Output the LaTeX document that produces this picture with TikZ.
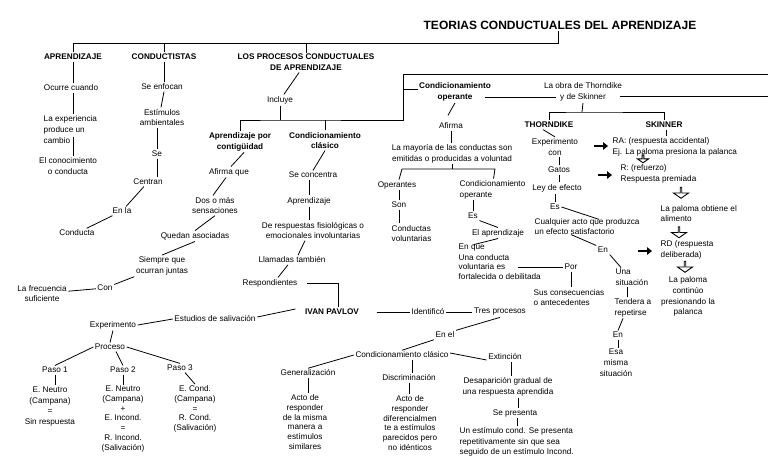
\documentclass[tikz,border=0pt]{standalone}
\usepackage{fontspec}
\setmainfont{Liberation Sans}
\usetikzlibrary{arrows.meta,shapes.arrows,calc}
\begin{document}
\begin{tikzpicture}[x=1pt,y=-1pt,
 every node/.style={font=\fontsize{8.2}{10.8}\selectfont, inner sep=1.5pt, align=center},
 lt/.style={align=left, anchor=west},
 bt/.style={font=\bfseries\fontsize{8.2}{10.8}\selectfont},
 tight/.style={font=\fontsize{8.2}{9.7}\selectfont},
 ln/.style={draw, line width=0.8pt},
 hollow/.style={single arrow, draw, fill=white, line width=0.9pt, shape border rotate=270,
   minimum height=11pt, minimum width=15pt, single arrow head extend=4pt,
   single arrow tip angle=110, inner sep=0pt},
 blkarr/.style={line width=2.6pt, -{Triangle[length=5pt,width=7.5pt]}}
]
\fill[white] (0,0) rectangle (768,467);
\useasboundingbox (0,0) rectangle (768,467);

% ---- title and top bar
\node[font=\bfseries\fontsize{12}{14}\selectfont] (title) at (560,25) {TEORIAS CONDUCTUALES DEL APRENDIZAJE};
\coordinate (topbar) at (558,43);
\node[bt] (aprend) at (73,57) {APRENDIZAJE};
\node[bt] (conduct) at (164,57) {CONDUCTISTAS};
\node[bt] (procesos) at (306,62.5) {LOS PROCESOS CONDUCTUALES\\DE APRENDIZAJE};
\draw[ln] (title.south -| topbar) -- (topbar) -| (aprend.north);
\draw[ln] (conduct.north) -- (conduct.north |- topbar);
\draw[ln] (procesos.north) -- (procesos.north |- topbar);

% ---- APRENDIZAJE column
\node (ocurre) at (71,88) {Ocurre cuando};
\node[lt] (exper) at (42,129.5) {La experiencia\\produce un\\cambio};
\node (conoc) at (68,166) {El conocimiento\\o conducta};
\draw[ln] (aprend.south) -- (aprend.south |- ocurre.north);
\draw[ln] (aprend.south |- ocurre.south) -- (aprend.south |- exper.north);
\draw[ln] ($(aprend.south |- exper.south)+(0,-8)$) -- (aprend.south |- conoc.north);

% ---- CONDUCTISTAS column
\node (enfocan) at (162,87) {Se enfocan};
\node (estim) at (162,117.5) {Estímulos\\ambientales};
\node (se1) at (157,154) {Se};
\node (centran) at (148,182) {Centran};
\node (enla) at (122,211) {En la};
\node (conducta) at (77,233) {Conducta};
\draw[ln] (conduct.south) -- (conduct.south |- enfocan.north);
\draw[ln] ([xshift=2pt]enfocan.south) -- ([xshift=-1pt]estim.north);
\draw[ln] (se1.north) -- (se1.north |- estim.south);
\draw[ln] (se1.south) -- (se1.south |- centran.north);
\draw[ln] (centran) -- (enla);
\draw[ln] (enla) -- (conducta);

% ---- LOS PROCESOS
\node (incluye) at (280,100) {Incluye};
\draw[ln] (procesos) -- (incluye);
\coordinate (ibar) at (280,120);
\coordinate (obar) at (403,74);
\coordinate (redge0) at (768,74);
\node[bt] (contig) at (240,141.5) {Aprendizaje por\\contigüidad};
\node[bt] (clasico) at (325,140.5) {Condicionamiento\\clásico};
\node[bt] (operante) at (455,92) {Condicionamiento\\operante};
\draw[ln] (incluye.south) -- (ibar);
\draw[ln] (contig.north) |- (ibar) -| (obar) -- (redge0);
\draw[ln] (clasico.north) -- (clasico.north |- ibar);
\draw[ln] ($(obar |- operante.west)+(0,-3)$) -- ($(operante.west)+(0,-3)$);

% ---- contiguidad chain
\node (afirma) at (229,172) {Afirma que};
\node (dos) at (215,205.5) {Dos o más\\sensaciones};
\node (quedan) at (195,236) {Quedan asociadas};
\node (siempre) at (162,266) {Siempre que\\ocurran juntas};
\node (con) at (105,288) {Con};
\node (frec) at (42,293.5) {La frecuencia\\suficiente};
\draw[ln] ([xshift=4pt]contig.south) -- ([xshift=2pt]afirma.north);
\draw[ln] ([xshift=-3pt]afirma.south) -- ([xshift=-2pt]dos.north);
\draw[ln] (dos.south) -- (quedan.north);
\draw[ln] (quedan.south) -- (siempre.north);
\draw[ln] (siempre) -- (con);
\draw[ln] (con) -- (frec);

% ---- clasico chain
\node (concentra) at (313,175) {Se concentra};
\node (aprendz) at (309,201) {Aprendizaje};
\node (deresp) at (313,230.5) {De respuestas fisiológicas o\\emocionales involuntarias};
\node (llamadas) at (292,260) {Llamadas también};
\node (respond) at (270,283) {Respondientes};
\node[bt] (pavlov) at (332,312) {IVAN PAVLOV};
\draw[ln] (clasico.south) -- (concentra.north);
\draw[ln] (aprendz.north) -- (aprendz.north |- concentra.south);
\draw[ln] (aprendz.south) -- (aprendz.south |- deresp.north);
\draw[ln] ([xshift=-8pt]deresp.south) -- ([xshift=6pt]llamadas.north);
\draw[ln] ([xshift=-4pt]llamadas.south) -- ([xshift=8pt]respond.north);
\draw[ln] ([xshift=8pt]respond.east) -| ([xshift=6pt]pavlov.north);

% ---- Pavlov experiment
\node (estudios) at (215,319) {Estudios de salivación};
\node (experim) at (113,325) {Experimento};
\node (proceso) at (110,347) {Proceso};
\draw[ln] ([xshift=-8pt,yshift=3pt]pavlov.west) -- ([yshift=2pt]estudios.east);
\draw[ln] (estudios.west) -- (experim.east);
\draw[ln] (experim.south) -- (proceso.north);
\node (paso1) at (55,370) {Paso 1};
\node (paso2) at (123,370) {Paso 2};
\node (paso3) at (180,368) {Paso 3};
\draw[ln] (proceso.west) -- (paso1.north);
\draw[ln] ([xshift=6pt]proceso.south) -- (paso2.north);
\draw[ln] (proceso.east) -- (paso3.north);
\node (en1) at (50,406.5) {E. Neutro\\(Campana)\\=\\Sin respuesta};
\node[tight] (en2) at (123,419) {E. Neutro\\(Campana)\\+\\E. Incond.\\=\\R. Incond.\\(Salivación)};
\node[tight] (en3) at (195,409) {E. Cond.\\(Campana)\\=\\R. Cond.\\(Salivación)};
\draw[ln] (paso1.south) -- (paso1.south |- en1.north);
\draw[ln] (paso2.south) -- (paso2.south |- en2.north);
\draw[ln] ([xshift=5pt]paso3.south) -- (en3.north);

% ---- Pavlov processes
\node (identif) at (428,312) {Identificó};
\node (tres) at (500,312) {Tres procesos};
\draw[ln] ([xshift=16pt]pavlov.east) -- (identif.west);
\draw[ln] (identif.east) -- (tres.west);
\node (enel) at (445,335) {En el};
\draw[ln] (tres.south) -- (enel.north east);
\node (cc) at (402,355) {Condicionamiento clásico};
\draw[ln] (enel.south west) -- (cc.north);
\node (gen) at (308,373) {Generalización};
\node (disc) at (409,378) {Discriminación};
\node (ext) at (505,357) {Extinción};
\draw[ln] (cc.west) -- (gen.north);
\draw[ln] ([xshift=10pt]cc.south) -- ([xshift=10pt]cc.south |- disc.north);
\draw[ln] ([yshift=2pt]cc.east) -- ([yshift=-3pt]ext.west);
\node[tight] (acto1) at (305,422) {Acto de\\responder\\de la misma\\manera a\\estímulos\\similares};
\node[tight] (acto2) at (410,423) {Acto de\\responder\\diferencialmen\\te a estímulos\\parecidos pero\\no idénticos};
\draw[ln] (gen.south) -- (gen.south |- acto1.north);
\draw[ln] (disc.south) -- (disc.south |- acto2.north);
\node (desap) at (508,387) {Desaparición gradual de\\una respuesta aprendida};
\node (sepres) at (515,413) {Se presenta};
\node[lt] (unest) at (458,442) {Un estímulo cond. Se presenta\\repetitivamente sin que sea\\seguido de un estímulo Incond.};
\draw[ln] ([xshift=6pt]ext.south) -- ([xshift=6pt]ext.south |- desap.north);
\draw[ln] ([xshift=3pt]sepres.north) -- ([xshift=3pt]sepres.north |- desap.south);
\draw[ln] ([xshift=2pt]sepres.south) -- ([xshift=2pt]sepres.south |- unest.north);

% ---- Condicionamiento operante
\node (obra) at (583,92) {La obra de Thorndike\\y de Skinner};
\coordinate (redge1) at (768,96);
\draw[ln] ($(operante.east)+(-7,5)$) -- ($(obra.west)+(14,5)$);
\draw[ln] ($(obra.east)+(-4,4)$) -- (redge1);
\node (afirmaop) at (451,126) {Afirma};
\draw[ln] (operante.south) -- ($(afirmaop.north)+(-3,-6)$);
\node (mayoria) at (452,153.5) {La mayoría de las conductas son\\emitidas o producidas a voluntad};
\draw[ln] (afirmaop.south) -- (afirmaop.south |- mayoria.north);
\coordinate (mbl) at (402,169);
\coordinate (mbr) at (495,169);
\node (operantes) at (397,185) {Operantes};
\node[lt] (condop) at (458,189.5) {Condicionamiento\\operante};
\draw[ln] (mayoria.south) -- (mayoria.south |- mbl);
\draw[ln] ($(operantes.north)+(2,0)$) -- (mbl) -- (mbr) -- ($(condop.north)+(1,0)$);
\node (son) at (399,205) {Son};
\node[lt] (condvol) at (390,233.5) {Conductas\\voluntarias};
\draw[ln] (son.north) -- (son.north |- operantes.south);
\draw[ln] (son.south) -- (son.south |- condvol.north);
\node (es3) at (473,216) {Es};
\draw[ln] (es3.north) -- (es3.north |- condop.south);
\node (aprdz) at (498,233) {El aprendizaje};
\draw[ln] (es3.south east) -- (aprdz.north);
\node[lt] (enque) at (457,248) {En que};
\node[lt,tight] (volunt) at (457,267) {Una conducta\\voluntaria es\\fortalecida o debilitada};
\draw[ln] (aprdz.south) -- ($(enque.north)+(2,2)$);
\node (por) at (571,267) {Por};
\draw[ln] ($(volunt.east)+(-24,0)$) -- (por.west);
\node[lt] (sus) at (532,297.5) {Sus consecuencias\\o antecedentes};
\draw[ln] (por.south) -- (por.south |- sus.north);

% ---- Thorndike / Skinner
\coordinate (tsbar) at (582,112);
\node[bt] (thorn) at (549,125) {THORNDIKE};
\node[bt] (skinner) at (664,125) {SKINNER};
\draw[ln] (obra.south) -- (tsbar);
\draw[ln] (thorn.north) |- (tsbar) -| (skinner.north);
\node (expcon) at (555,147) {Experimento\\con};
\draw[ln] ([xshift=-6pt]thorn.south) -- (expcon.north);
\node (gatos) at (559,170) {Gatos};
\draw[ln] ([xshift=4pt]expcon.south) -- (gatos.north);
\node (ley) at (557,188) {Ley de efecto};
\draw[ln] (gatos.south) -- (gatos.south |- ley.north);
\node (es2) at (555,207) {Es};
\draw[ln] (es2.north) -- (es2.north |- ley.south);
\node[lt] (cualq) at (533,226.5) {Cualquier acto que produzca\\un efecto satisfactorio};
\draw[ln] (es2.east) -- ($(cualq.north)+(12,3)$);
\node (en3r) at (603,250) {En};
\draw[ln] ($(cualq.south)+(-16,-2)$) -- (en3r.north west);
\node[lt] (unasit) at (614,277.5) {Una\\situación};
\draw[ln] (en3r.south east) -- ($(unasit.north west)+(7,0)$);
\node[lt] (tendera) at (613,307.5) {Tendera a\\repetirse};
\draw[ln] ($(unasit.south west)+(13,0)$) -- ($(tendera.north west)+(14,0)$);
\node (en4) at (618,335) {En};
\draw[ln] ($(tendera.south west)+(10,0)$) -- (en4.north);
\node (esa) at (616,363) {Esa\\misma\\situación};
\draw[ln] (en4.south) -- (en4.south |- esa.north);

\node[lt] (ra) at (611,147) {RA: (respuesta accidental)\\Ej. La paloma presiona la palanca};
\draw[ln] ([xshift=2pt]skinner.south) -- ([xshift=2pt]skinner.south |- ra.north);
\node[lt] (rr) at (619,173.5) {R: (refuerzo)\\Respuesta premiada};
\node[lt] (alim) at (659,213.5) {La paloma obtiene el\\alimento};
\node[lt] (rd) at (659,249.5) {RD (respuesta\\deliberada)};
\node (cont) at (688,296.5) {La paloma\\continúo\\presionando la\\palanca};
\node[hollow, minimum height=8pt, minimum width=11pt, single arrow head extend=2.5pt] (ha1) at (643,158.5) {};
\node[hollow] (ha2) at (681,192.5) {};
\node[hollow] (ha3) at (679,232) {};
\node[hollow] (ha4) at (685,266.5) {};
\coordinate (b1s) at (594,146); \coordinate (b1e) at (608,146);
\coordinate (b2s) at (598,175); \coordinate (b2e) at (612,175);
\coordinate (b3s) at (638,251); \coordinate (b3e) at (652,251);
\draw[blkarr] (b1s) -- (b1e);
\draw[blkarr] (b2s) -- (b2e);
\draw[blkarr] (b3s) -- (b3e);
\end{tikzpicture}
\end{document}
